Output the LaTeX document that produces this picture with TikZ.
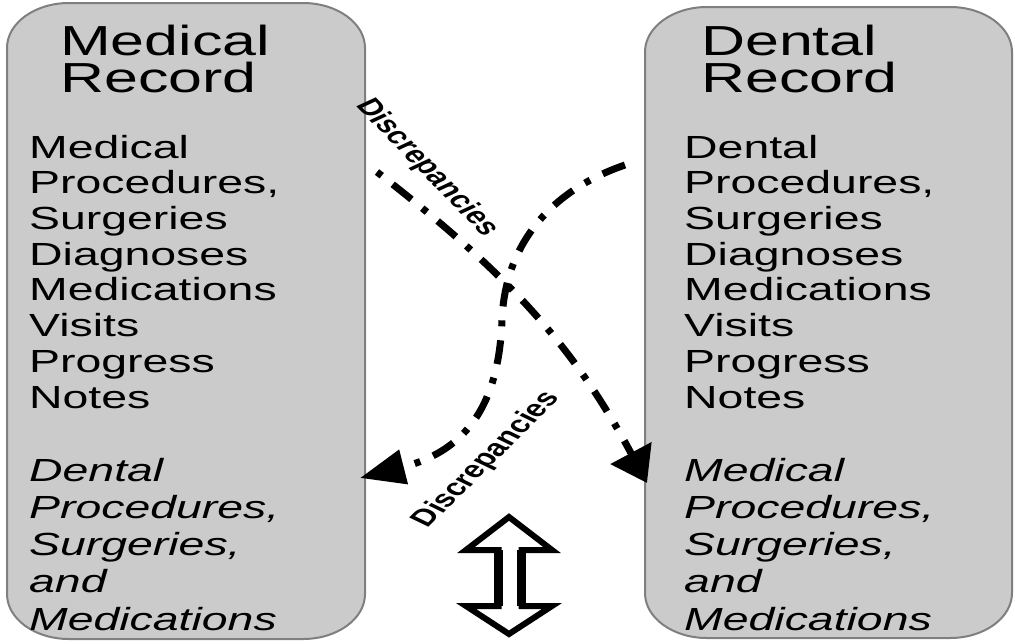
\documentclass[tikz,border=0pt]{standalone}
\usepackage{fontspec}
\setmainfont{Liberation Sans}[FakeStretch=1.45]
\newfontfamily\discfont{Liberation Sans}
\usetikzlibrary{arrows.meta}
\definecolor{boxfill}{HTML}{CBCBCB}
\definecolor{boxline}{HTML}{7F7F7F}
\begin{document}
\begin{tikzpicture}[x=1pt,y=-1pt,
  recbox/.style={fill=boxfill,draw=boxline,line width=2pt},
  titletext/.style={anchor=base west,inner sep=0pt,align=left,font=\fontsize{42}{37}\selectfont},
  bodytext/.style={anchor=base west,inner sep=0pt,align=left,font=\fontsize{32}{35.7}\selectfont},
  italtext/.style={anchor=base west,inner sep=0pt,align=left,font=\fontsize{32}{37.2}\selectfont\itshape},
  flow/.style={line width=7pt,dash pattern=on 24pt off 14pt on 6pt off 14pt},
  disc/.style={font=\discfont\bfseries\fontsize{23.5}{24}\selectfont,inner sep=0pt,transform shape}]
\useasboundingbox (0,0) rectangle (1015,643);
% boxes
\draw[recbox] (69,3) -- (303,3) .. controls (337.2,3) and (365,23.1) .. (365,48)
  -- (365,594) .. controls (365,618.9) and (337.2,639) .. (303,639)
  -- (69,639) .. controls (34.8,639) and (7,618.9) .. (7,594)
  -- (7,48) .. controls (7,23.1) and (34.8,3) .. (69,3) -- cycle;
\draw[recbox] (707,7) -- (950,7) .. controls (984.2,7) and (1012,27.1) .. (1012,52)
  -- (1012,593) .. controls (1012,617.9) and (984.2,638) .. (950,638)
  -- (707,638) .. controls (672.8,638) and (645,617.9) .. (645,593)
  -- (645,52) .. controls (645,27.1) and (672.8,7) .. (707,7) -- cycle;
% texts (anchor base = baseline of the last line)
\node[titletext] (mtitle) at (60,92) {Medical\\Record};
\node[bodytext] (mbody) at (29,408) {Medical\\Procedures,\\Surgeries\\Diagnoses\\Medications\\Visits\\Progress\\Notes};
\node[italtext] (mital) at (29,630) {Dental\\Procedures,\\Surgeries,\\and\\Medications};
\node[titletext] (dtitle) at (701,92) {Dental\\Record};
\node[bodytext] (dbody) at (684,408) {Dental\\Procedures,\\Surgeries\\Diagnoses\\Medications\\Visits\\Progress\\Notes};
\node[italtext] (dital) at (684,630) {Medical\\Procedures,\\Surgeries,\\and\\Medications};
% arrows
\coordinate (m1) at (377,172);
\coordinate (m1t) at (647,483);
\coordinate (d1) at (625,165);
\coordinate (d1m) at (502,320);
\coordinate (d1t) at (360,478);
\draw[flow,dash phase=38pt,-{Triangle[length=34pt,width=45pt]}] (m1) .. controls (504,271) and (571,341) .. (m1t);
\draw[flow,-{Triangle[length=45pt,width=34pt]}] (d1) .. controls (552,190) and (505,243) .. (d1m)
  .. controls (499,400) and (470,450) .. (d1t);
% labels
\begin{scope}[xscale=1.45]
\node[disc,rotate=-56] (lab1) at (427/1.45,168) {Discrepancies};
\node[disc,rotate=55] (lab2) at (487/1.45,460) {Discrepancies};
\end{scope}
% double arrow
\draw[line width=6pt,line join=miter,fill=white] (509,517) -- (552,550) -- (521.5,550) -- (521.5,606)
  -- (552,606) -- (509,634) -- (466,606) -- (498.5,606) -- (498.5,550) -- (466,550) -- cycle;
\draw[line width=9pt] (498.5,550) -- (498.5,606) (521.5,550) -- (521.5,606);
\end{tikzpicture}
\end{document}
